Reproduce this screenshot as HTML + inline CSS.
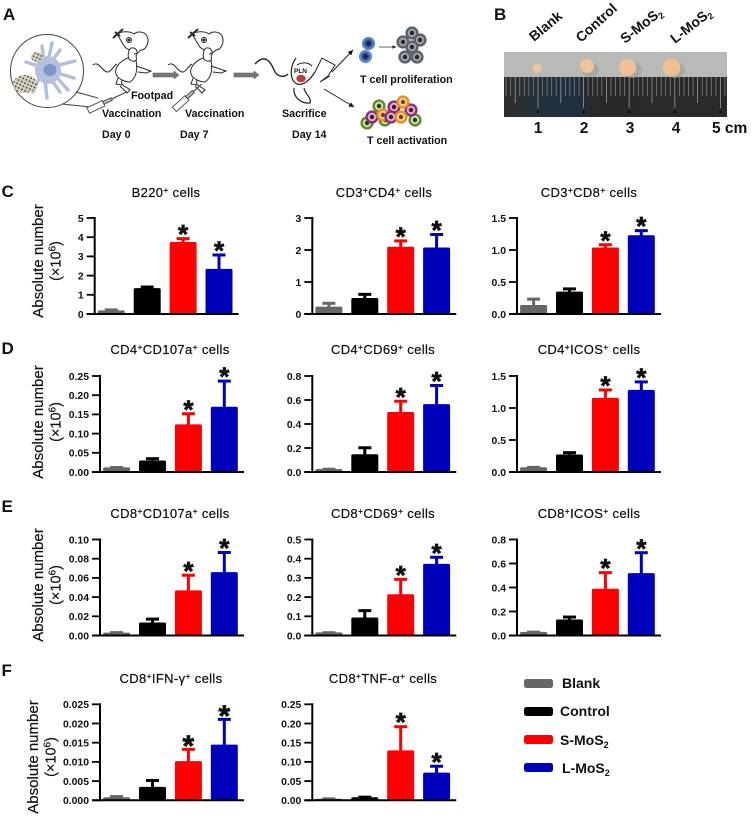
<!DOCTYPE html>
<html>
<head>
<meta charset="utf-8">
<title>MoS2 lymph node chart</title>
<style>
html,body{margin:0;padding:0;background:#fff;}
svg{display:block;}
text{font-family:"Liberation Sans",Arial,sans-serif;fill:#111;}
.b{font-weight:bold;}
.letter{font-size:17px;font-weight:bold;}
.a{font-size:10.7px;font-weight:bold;}
.tick{font-size:10.4px;font-weight:bold;}
.title{font-size:13px;letter-spacing:.35px;stroke:#111;stroke-width:.22px;}
.yt{font-size:15px;stroke:#111;stroke-width:.2px;}
.leg{font-size:14px;font-weight:bold;}
.cm{font-size:15.5px;font-weight:bold;}
.lab{font-size:14px;font-weight:bold;}
</style>
</head>
<body>
<svg id="fig" xmlns="http://www.w3.org/2000/svg" width="753" height="818" viewBox="0 0 753 818">
<defs>
<pattern id="mesh" width="3.5" height="3.5" patternUnits="userSpaceOnUse" patternTransform="rotate(25)">
<rect width="3.5" height="3.5" fill="#d8d4c4"/><circle cx="1.7" cy="1.7" r="1" fill="#5a5648"/>
</pattern>
<linearGradient id="rulerBg" x1="0" x2="1" y1="0" y2="0">
<stop offset="0" stop-color="#2e2e2e"/><stop offset=".18" stop-color="#22303c"/><stop offset=".32" stop-color="#1f2f40"/><stop offset=".42" stop-color="#2b2926"/><stop offset="1" stop-color="#2a2a2a"/>
</linearGradient>
<marker id="ah" markerWidth="6" markerHeight="6" refX="5" refY="2.5" orient="auto"><path d="M0,0L5,2.5L0,5z" fill="#111"/></marker>
<g id="mouse" fill="none" stroke="#2a2a2a" stroke-width="1">
<path d="M93,65C99,60 103,73 108,72C112,71 113,66 117,64"/>
<path d="M117,34C122,31 130,31 134,34C137,31 144,31 147,36C150,42 146,50 141,50C139,52 136,54 134,54"/>
<path d="M117,34L123,44C125,48 127,49 130,50"/>
<path d="M131,48C136,47 139,52 136,56C138,62 133,62 130,60C127,58 128,50 131,48z"/>
<path d="M128,58C118,62 113,70 117,76C120,80 126,82 130,82C136,78 138,70 136,60"/>
<path d="M136,66L145,69L151,71L146,73L138,72"/>
<path d="M122,80C120,86 126,86 130,90L127,93L120,86"/>
<path d="M118,78L116,84L122,85"/>
<circle cx="129" cy="40" r="2.5"/><circle cx="129" cy="40" r="1" fill="#2a2a2a"/>
<path d="M113,38L123,29M115,32L120,36" stroke-width="2"/>
</g>
</defs>
<rect width="753" height="818" fill="#fff"/>

<g>
<text class="letter" x="3" y="20">A</text>
<g>
<circle cx="47" cy="71" r="36.5" fill="#fff" stroke="#444" stroke-width="1"/>
<path d="M76,92L98,98M62,104L90,107" stroke="#444" fill="none"/>
<g stroke="#b4bfdc" stroke-width="3.5" stroke-linecap="round" fill="none">
<path d="M47,68L60,50M47,68L75,61M47,70L74,78M46,72L60,92M44,72L47,98M42,72L33,92M38,66L26,62M44,62L42,46M48,62L52,43M52,72L68,90"/>
</g>
<ellipse cx="48" cy="70" rx="13" ry="14" fill="#b4c0de"/>
<ellipse cx="50" cy="70" rx="6.5" ry="6" fill="#7f96c9"/>
<ellipse cx="37" cy="57" rx="6" ry="5" fill="url(#mesh)"/>
<ellipse cx="25" cy="84" rx="12" ry="9" fill="url(#mesh)"/>
</g>
<use href="#mouse"/>
<use href="#mouse" x="75"/>
<g fill="#fff" stroke="#555">
<g transform="translate(88,110) rotate(-25)"><rect x="0" y="-2.5" width="17" height="6" /><rect x="17" y="-1.5" width="9" height="3" fill="#bbb"/><path d="M26,0L43,0" stroke-width="1.3"/></g>
<g transform="translate(174,109) rotate(-42)"><rect x="0" y="-2.5" width="17" height="6"/><rect x="17" y="-1.5" width="9" height="3" fill="#bbb"/><path d="M26,0L37,0" stroke-width="1.3"/></g>
</g>
<g fill="#777" stroke="#555" stroke-width=".5">
<path d="M153,73H174V71L179,75L174,79V77H153z"/>
<path d="M234,73H254V71L259,75L254,79V77H234z"/>
</g>
<g fill="none" stroke="#222">
<path d="M255,64C264,54 270,60 274,70C277,77 284,78 288,74" stroke-width="1.4"/>
<path d="M296,58C290,66 289,80 297,84C303,86 310,80 315,72" stroke-width="1.2"/>
<path d="M297,65C302,62 308,62 312,66"/>
<path d="M294,88C293,98 302,104 310,103C312,98 305,94 304,88" stroke-width="1.2"/>
<path d="M315,72L322,58L335,65L328,76L320,82L330,76" stroke-width="1"/>
<ellipse cx="301" cy="78.5" rx="4.7" ry="3.8" fill="#c33a3a" stroke="none"/>
</g>
<path d="M332,72L353,50" stroke="#222" fill="none" marker-end="url(#ah)"/>
<path d="M324,89L354,107" stroke="#222" fill="none" marker-end="url(#ah)"/>
<path d="M379,47H396" stroke="#333" stroke-width=".7" fill="none" marker-end="url(#ah)"/>
<g id="cellsBlue"></g>
<g id="cellsGray"></g>
<g id="cellsColor"></g>
<text class="a" x="131" y="99">Footpad</text>
<text class="a" x="102" y="117">Vaccination</text>
<text class="a" x="185" y="117">Vaccination</text>
<text class="a" x="282" y="117">Sacrifice</text>
<text class="a" x="102" y="138">Day 0</text>
<text class="a" x="180" y="138">Day 7</text>
<text class="a" x="292" y="138">Day 14</text>
<text x="294" y="73" font-size="6.5" font-weight="bold">PLN</text>
<text class="a" x="360" y="83">T cell proliferation</text>
<text class="a" x="367" y="144">T cell activation</text>
</g>

<g>
<text class="letter" x="494" y="20">B</text>
<text class="lab" transform="translate(534,42) rotate(-40)">Blank</text>
<text class="lab" transform="translate(581,43) rotate(-42)">Control</text>
<text class="lab" transform="translate(625,44) rotate(-38)">S-MoS<tspan font-size="9" dy="3">2</tspan></text>
<text class="lab" transform="translate(675,44) rotate(-38)">L-MoS<tspan font-size="9" dy="3">2</tspan></text>
<rect x="504" y="52" width="223" height="25" fill="#b8bab7"/>
<rect x="504" y="77" width="223" height="40" fill="url(#rulerBg)"/>
<g id="rulerTicks"></g>
<g>
<ellipse cx="590" cy="70" rx="9" ry="7" fill="#9b9d9a" opacity=".6"/>
<ellipse cx="632" cy="70" rx="10" ry="8" fill="#9b9d9a" opacity=".6"/>
<ellipse cx="675" cy="70" rx="10" ry="8" fill="#9b9d9a" opacity=".6"/>
<circle cx="537" cy="68.5" r="4.5" fill="#edc6a0"/>
<circle cx="587" cy="66" r="7" fill="#eec39a"/>
<circle cx="627.5" cy="67.5" r="8.5" fill="#f1c094"/>
<circle cx="671.5" cy="67.5" r="8.8" fill="#f2bf92"/>
</g>
<text class="cm" x="538" y="133" text-anchor="middle">1</text>
<text class="cm" x="584" y="133" text-anchor="middle">2</text>
<text class="cm" x="630" y="133" text-anchor="middle">3</text>
<text class="cm" x="676" y="133" text-anchor="middle">4</text>
<text class="cm" x="712" y="133">5 cm</text>
</g>

<text class="letter" x="1.5" y="197">C</text>
<text class="letter" x="1.5" y="354">D</text>
<text class="letter" x="1.5" y="512">E</text>
<text class="letter" x="1.5" y="676">F</text>

<g id="charts"></g>

<g>
<g><rect x="524" y="679" width="29" height="9" rx="2.5" fill="#666"/><text class="leg" x="562" y="688">Blank</text></g>
<g><rect x="524" y="707" width="29" height="9" rx="2.5" fill="#000"/><text class="leg" x="560" y="716">Control</text></g>
<g><rect x="524" y="735" width="29" height="9" rx="2.5" fill="#f00"/><text class="leg" x="560" y="745">S-MoS<tspan font-size="9" dy="3">2</tspan></text></g>
<g><rect x="524" y="763" width="29" height="9" rx="2.5" fill="#00b"/><text class="leg" x="562" y="773">L-MoS<tspan font-size="9" dy="3">2</tspan></text></g>
</g>
</svg>
<script>
const groups = ['Blank', 'Control', 'S-MoS2', 'L-MoS2'];
const groupColors = ['#666666', '#000000', '#ff0000', '#0000bb'];
const panelTitles = [
  'B220^+ cells', 'CD3^+CD4^+ cells', 'CD3^+CD8^+ cells',
  'CD4^+CD107a^+ cells', 'CD4^+CD69^+ cells', 'CD4^+ICOS^+ cells',
  'CD8^+CD107a^+ cells', 'CD8^+CD69^+ cells', 'CD8^+ICOS^+ cells',
  'CD8^+IFN-γ^+ cells', 'CD8^+TNF-α^+ cells'
];
const yTickLabels = [
  ['0', '1', '2', '3', '4', '5'], ['0', '1', '2', '3'], ['0.0', '0.5', '1.0', '1.5'],
  ['0.00', '0.05', '0.10', '0.15', '0.20', '0.25'], ['0.0', '0.2', '0.4', '0.6', '0.8'], ['0.0', '0.5', '1.0', '1.5'],
  ['0.00', '0.02', '0.04', '0.06', '0.08', '0.10'], ['0.0', '0.1', '0.2', '0.3', '0.4', '0.5'], ['0.0', '0.2', '0.4', '0.6', '0.8'],
  ['0.000', '0.005', '0.010', '0.015', '0.020', '0.025'], ['0.00', '0.05', '0.10', '0.15', '0.20', '0.25']
];
const meanValues = [
  [0.19, 1.35, 3.75, 2.35], [0.23, 0.50, 2.10, 2.08], [0.14, 0.35, 1.04, 1.23],
  [0.012, 0.030, 0.124, 0.170], [0.025, 0.148, 0.500, 0.566], [0.074, 0.274, 1.158, 1.284],
  [0.003, 0.0135, 0.047, 0.066], [0.016, 0.094, 0.215, 0.373], [0.030, 0.133, 0.390, 0.520],
  [0.0008, 0.0035, 0.0102, 0.0145], [0.004, 0.008, 0.130, 0.072]
];
const errorTops = [
  [0.24, 1.43, 3.95, 3.10], [0.35, 0.63, 2.30, 2.50], [0.24, 0.40, 1.09, 1.31],
  [0.013, 0.036, 0.153, 0.238], [0.027, 0.206, 0.594, 0.725], [0.080, 0.310, 1.290, 1.416],
  [0.0035, 0.0176, 0.0633, 0.087], [0.017, 0.132, 0.295, 0.410], [0.032, 0.158, 0.528, 0.694],
  [0.0011, 0.0053, 0.0134, 0.0212], [0.005, 0.0095, 0.193, 0.090]
];
const significant = [false, false, true, true];

const SVG = 'http://www.w3.org/2000/svg';
const root = document.getElementById('charts');
function mk(parent, tag, attrs, txt) {
  const e = document.createElementNS(SVG, tag);
  for (const k in attrs) e.setAttribute(k, attrs[k]);
  if (txt !== undefined) e.textContent = txt;
  parent.appendChild(e);
  return e;
}
function frameFor(p) {
  const rowBase = [314, 472, 635.5, 800.3][Math.floor(p / 3)];
  const col = p % 3;
  const firstX = p === 0 ? 94.7 : 100;
  const axisX = [firstX, 312.3, 517][col];
  return { axisX: axisX, y0: rowBase, top: rowBase - 96, endX: axisX + 144 };
}
function xScale(f, i) { return f.axisX + 16.6 + i * 35.9; }
function yScale(f, maxV, v) { return f.y0 - (v / maxV) * (f.y0 - f.top); }
function addTitle(parent, str, x, y) {
  const t = mk(parent, 'text', { class: 'title', x: x, y: y, 'text-anchor': 'middle' });
  
  
  const parts = str.split('^+');
  parts.forEach(function (s, i) {
    const sp = mk(t, 'tspan', i > 0 ? { dy: 4 } : {}, s);
    if (i < parts.length - 1) mk(sp.parentNode, 'tspan', { dy: -4, 'font-size': 8.5 }, '+');
  });
}
const titleXs = [166, 384, 589, 170, 383, 589, 170, 383, 589, 171, 383];
const titleYs = [197, 354, 518, 683];
panelTitles.forEach(function (name, p) {
  const f = frameFor(p);
  const ticks = yTickLabels[p];
  const maxV = parseFloat(ticks[ticks.length - 1]);
  const g = mk(root, 'g', {});
  
  
  addTitle(g, name, titleXs[p], titleYs[Math.floor(p / 3)]);

  groups.forEach(function (gr, i) {
    const cx = xScale(f, i);
    const yv = yScale(f, maxV, meanValues[p][i]);
    const ye = yScale(f, maxV, errorTops[p][i]);
    const col = groupColors[i];
    const stem = mk(g, 'rect', { x: cx - 1.5, y: ye, width: 3, height: yv - ye + 1, fill: col });
    
    
    const cap = mk(g, 'rect', { x: cx - 6.5, y: ye - 1, width: 13, height: 3, fill: col });
    
    
    const bar = mk(g, 'rect', { x: cx - 13.5, y: yv, width: 27, height: Math.max(f.y0 - yv, 0.5), rx: 1.5, fill: col });
    
    
    if (significant[i]) {
      const size = p === 9 ? 30 : 26;
      const star = mk(g, 'text', { x: cx, y: ye - 9.5 + size * 0.56, 'text-anchor': 'middle', 'font-size': size, 'font-weight': 'bold', stroke: '#111', 'stroke-width': 0.7 }, '*');
      
      
    }
  });

  const yAxis = mk(g, 'line', { x1: f.axisX, x2: f.axisX, y1: f.top - 1, y2: f.y0 + 1, stroke: '#000', 'stroke-width': 2 });
  
  
  const xAxis = mk(g, 'line', { x1: f.axisX - 8, x2: f.endX, y1: f.y0, y2: f.y0, stroke: '#000', 'stroke-width': 2 });
  
  
  ticks.forEach(function (lab) {
    const y = yScale(f, maxV, parseFloat(lab));
    const tk = mk(g, 'line', { x1: f.axisX - 8, x2: f.axisX, y1: y, y2: y, stroke: '#000', 'stroke-width': 1.8 });
    
    
    const tl = mk(g, 'text', { class: 'tick', x: f.axisX - 11, y: y + 3.8, 'text-anchor': 'end' }, lab);
    
    
  });
});

/* y-axis titles, one per row */
const rowTitleCenters = [261, 422, 585, 757];
rowTitleCenters.forEach(function (cy, r) {
  const bx = r === 3 ? 38 : 43;
  const t1 = mk(root, 'text', { class: 'yt', 'text-anchor': 'middle', transform: 'translate(' + bx + ',' + cy + ') rotate(-90)' }, 'Absolute number');
  
  
  const t2 = mk(root, 'text', { class: 'yt', 'text-anchor': 'middle', transform: 'translate(' + (bx + 17.5) + ',' + cy + ') rotate(-90)', style: 'font-size:14.5px' }, '(×10');
  
  
  mk(t2, 'tspan', { dy: -5, style: 'font-size:10px' }, '6');
  mk(t2, 'tspan', { dy: 5 }, ')');
});

/* schematic cells */
function cell(parent, x, y, outer, inner, nuc) {
  const c = mk(parent, 'g', {});
  
  
  mk(c, 'circle', { cx: x, cy: y, r: 6.6, fill: outer });
  mk(c, 'circle', { cx: x, cy: y, r: 4.2, fill: inner });
  mk(c, 'circle', { cx: x, cy: y, r: 2.2, fill: nuc });
}
const gb = document.getElementById('cellsBlue');
cell(gb, 368.5, 43.5, '#5f83c0', '#2f559b', '#101e44');
cell(gb, 365.5, 56.5, '#6a8cc6', '#2f559b', '#101e44');
const gg = document.getElementById('cellsGray');
[[412, 33], [403, 42], [420, 40], [412, 47], [405, 57], [417, 57]].forEach(function (a) {
  cell(gg, a[0], a[1], '#5d6166', '#9ba3ab', '#23272c');
});
const gc = document.getElementById('cellsColor');
const G = ['#5f8a2e', '#cfe0a6', '#223c0f'], P = ['#8d2c78', '#dcb4d2', '#3e1038'], O = ['#e88f1e', '#f6d59a', '#7a3f05'];
[[367, 123, G], [379, 106, G], [385, 120, G], [372, 117, P], [383, 115, O], [415, 120, G], [411, 110, P], [394, 107, P], [403, 102, O], [391, 117, P], [401, 117, O]].forEach(function (a) {
  cell(gc, a[0], a[1], a[2][0], a[2][1], a[2][2]);
});

/* ruler graduations */
const rt = document.getElementById('rulerTicks');
for (let mm = -7; mm <= 41; mm++) {
  const x = 538 + mm * 4.56;
  const isCm = ((mm % 10) + 10) % 10 === 0;
  const isHalf = ((mm % 5) + 5) % 5 === 0;
  const tickLine = mk(rt, 'line', { x1: x, x2: x, y1: 77, y2: isCm ? 108 : (isHalf ? 103 : 96), stroke: isHalf ? '#9a9a9a' : '#7e7e7e', 'stroke-width': 0.8 });
  
  
  if (isCm) {
    const dot = mk(rt, 'circle', { cx: x, cy: 112, r: 1.1, fill: '#000' });
    
    
  }
}
</script>
</body>
</html>
